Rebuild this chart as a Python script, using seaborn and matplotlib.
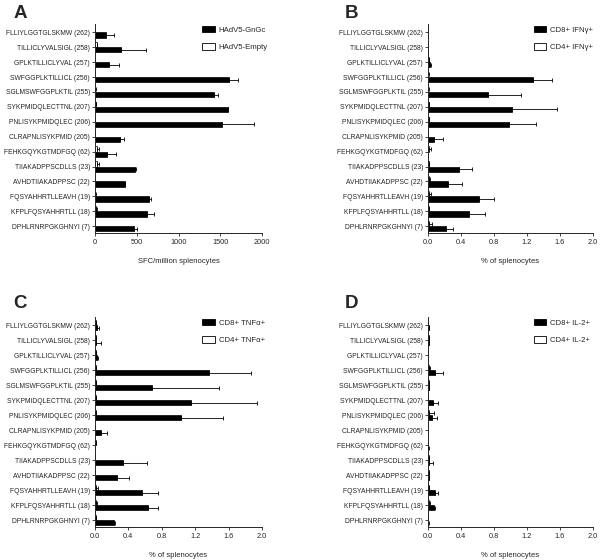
import numpy as np
import pandas as pd
import matplotlib
matplotlib.use("Agg")
import matplotlib.pyplot as plt
import matplotlib.patches as mpatches
import seaborn as sn

sn.set_style("ticks")
plt.rcParams['font.family'] = ['Liberation Sans', 'DejaVu Sans']

# peptides (top to bottom)
peptides = ['FLLIYLGGTGLSKMW (262)', 'TILLICLYVALSIGL (258)', 'GPLKTILLICLYVAL (257)',
            'SWFGGPLKTILLICL (256)', 'SGLMSWFGGPLKTIL (255)', 'SYKPMIDQLECTTNL (207)',
            'PNLISYKPMIDQLEC (206)', 'CLRAPNLISYKPMID (205)', 'FEHKGQYKGTMDFGQ (62)',
            'TIIAKADPPSCDLLS (23)', 'AVHDTIIAKADPPSC (22)', 'FQSYAHHRTLLEAVH (19)',
            'KFPLFQSYAHHRTLL (18)', 'DPHLRNRPGKGHNYI (7)']

# A: SFC/million splenocytes
a_black = [139, 310, 175, 1604, 1429, 1588, 1520, 302, 151, 482, 358, 649, 629, 474]
a_black_err = [92, 303, 120, 107, 48, 8, 378, 48, 104, 5, 5, 28, 79, 27]
a_white = [5, 22, 3, 4, 8, 10, 4, 3, 32, 30, 3, 8, 15, 3]
a_white_err = [3, 8, 2, 2, 4, 4, 2, 2, 18, 18, 2, 5, 8, 2]

# B: IFNy
b_black = [0.003, 0.002, 0.025, 1.27, 0.73, 1.02, 0.99, 0.08, 0.004, 0.38, 0.25, 0.62, 0.50, 0.22]
b_black_err = [0.002, 0.002, 0.01, 0.24, 0.40, 0.54, 0.32, 0.10, 0.002, 0.16, 0.17, 0.18, 0.19, 0.09]
b_white = [0.002, 0.002, 0.01, 0.005, 0.005, 0.01, 0.01, 0.003, 0.01, 0.01, 0.02, 0.01, 0.01, 0.01]
b_white_err = [0.001, 0.001, 0.01, 0.005, 0.005, 0.005, 0.005, 0.002, 0.03, 0.01, 0.01, 0.03, 0.01, 0.04]

# C: TNFa
c_black = [0.03, 0.01, 0.03, 1.37, 0.68, 1.15, 1.03, 0.08, 0.005, 0.34, 0.26, 0.56, 0.64, 0.23]
c_black_err = [0.02, 0.07, 0.005, 0.50, 0.80, 0.79, 0.50, 0.07, 0.003, 0.28, 0.15, 0.20, 0.12, 0.01]
c_white = [0.01, 0.01, 0.01, 0.01, 0.01, 0.01, 0.01, 0.005, 0.01, 0.005, 0.005, 0.02, 0.02, 0.01]
c_white_err = [0.005, 0.005, 0.005, 0.005, 0.005, 0.005, 0.005, 0.003, 0.005, 0.003, 0.003, 0.02, 0.005, 0.005]

# D: IL-2
d_black = [0.01, 0.01, 0.005, 0.09, 0.01, 0.06, 0.05, 0.003, 0.005, 0.02, 0.01, 0.09, 0.07, 0.005]
d_black_err = [0.005, 0.01, 0.003, 0.10, 0.01, 0.06, 0.06, 0.002, 0.004, 0.04, 0.01, 0.03, 0.02, 0.005]
d_white = [0.003, 0.01, 0.005, 0.02, 0.01, 0.003, 0.02, 0.003, 0.005, 0.01, 0.01, 0.01, 0.02, 0.005]
d_white_err = [0.002, 0.01, 0.003, 0.01, 0.005, 0.002, 0.05, 0.002, 0.003, 0.005, 0.01, 0.005, 0.005, 0.003]

panels = [
    ('A', 'HAdV5-GnGc', 'HAdV5-Empty', a_black, a_black_err, a_white, a_white_err,
     'SFC/million splenocytes', [0, 500, 1000, 1500, 2000], 2000),
    ('B', 'CD8+ IFNγ+', 'CD4+ IFNγ+', b_black, b_black_err, b_white, b_white_err,
     '% of splenocytes', [0.0, 0.4, 0.8, 1.2, 1.6, 2.0], 2.0),
    ('C', 'CD8+ TNFα+', 'CD4+ TNFα+', c_black, c_black_err, c_white, c_white_err,
     '% of splenocytes', [0.0, 0.4, 0.8, 1.2, 1.6, 2.0], 2.0),
    ('D', 'CD8+ IL-2+', 'CD4+ IL-2+', d_black, d_black_err, d_white, d_white_err,
     '% of splenocytes', [0.0, 0.4, 0.8, 1.2, 1.6, 2.0], 2.0),
]

# axes boxes (left, bottom, width, height) and panel letter spots
boxes = [[0.158, 0.584, 0.279, 0.373],
         [0.713, 0.584, 0.275, 0.373],
         [0.158, 0.059, 0.279, 0.375],
         [0.713, 0.059, 0.275, 0.375]]
letter_xy = [(0.022, 0.991), (0.575, 0.991), (0.022, 0.474), (0.575, 0.474)]

fig = plt.figure(figsize=(6, 5.6), dpi=100)

for box, lxy, (letter, lab_black, lab_white, black, black_err, white, white_err,
               xlabel, xticks, xmax) in zip(boxes, letter_xy, panels):
    ax = fig.add_axes(box)
    df = pd.DataFrame({
        'peptide': peptides * 2,
        'group': [lab_white] * len(peptides) + [lab_black] * len(peptides),
        'value': white + black,
    })
    # white (control) bar drawn above the black one
    sn.barplot(data=df, y='peptide', x='value', hue='group', hue_order=[lab_white, lab_black],
               palette={lab_white: 'white', lab_black: 'black'}, edgecolor='black',
               linewidth=0.5, width=0.7, errorbar=None, legend=False, ax=ax)

    # one-sided error bars
    for cont, vals, errs in zip(ax.containers, [white, black], [white_err, black_err]):
        ys = [p.get_y() + p.get_height() / 2 for p in cont.patches]
        ax.errorbar(x=vals, y=ys, xerr=[np.zeros(len(errs)), errs], fmt='none',
                    ecolor='black', elinewidth=0.6, capsize=1.3, capthick=0.6)

    ax.set_xlim(0, xmax)
    ax.set_ylim(13.45, -0.55)
    ax.set_xticks(xticks)
    if xmax < 10:
        ax.set_xticklabels(['%.1f' % t for t in xticks])
    ax.tick_params(axis='x', labelsize=5.3, length=2.5, width=0.6, pad=1.5)
    ax.tick_params(axis='y', labelsize=4.85, length=2.5, width=0.6, pad=1)
    ax.set_xlabel(xlabel, fontsize=5.5, labelpad=9)
    ax.set_ylabel('')
    for s in ['left', 'bottom']:
        ax.spines[s].set_linewidth(0.7)
    sn.despine(ax=ax)

    handles = [mpatches.Patch(facecolor='black', edgecolor='black', linewidth=0.6, label=lab_black),
               mpatches.Patch(facecolor='white', edgecolor='black', linewidth=0.6, label=lab_white)]
    ax.legend(handles=handles, loc='upper left', bbox_to_anchor=(0.6, 1.025), frameon=False,
              fontsize=5.6, labelspacing=1.25, handlelength=1.6, handleheight=0.9, handletextpad=0.5)

    # panel letter
    fig.text(lxy[0], lxy[1], letter, fontsize=13.5, fontweight='bold', va='top', ha='left')

plt.savefig('out.png', dpi=100)
